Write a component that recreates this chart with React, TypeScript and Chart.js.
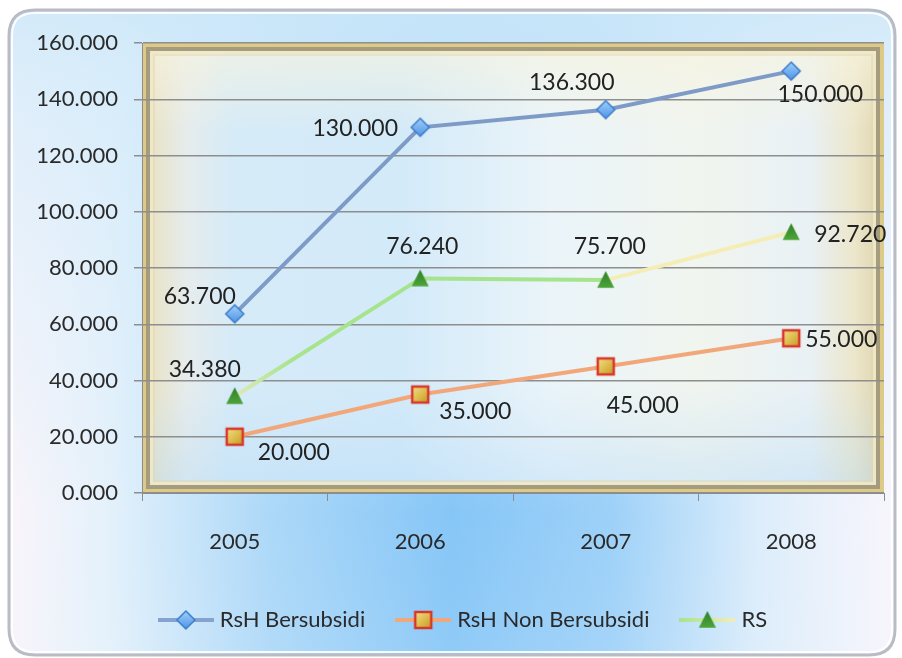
import React, { useEffect, useRef } from "react";
import { Chart, registerables } from "chart.js";
Chart.register(...registerables);

const years = ["2005", "2006", "2007", "2008"];
const rshBersubsidi = [63.7, 130, 136.3, 150];
const rshNonBersubsidi = [20, 35, 45, 55];
const rsValues = [34.38, 76.24, 75.7, 92.72];
const seriesNames = ["RsH Bersubsidi", "RsH Non Bersubsidi", "RS"];
const yMin = 0;
const yMax = 160;
const yStep = 20;

// label offsets (style) relative to each point: [dx, dy]
const labelOffsets = [
  [[-35, -17], [-65, 1], [-34, -27], [29, 23]],
  [[59, 16], [55, 17], [37, 39], [50, 1]],
  [[-30, -27], [2, -32], [4, -34], [59, 2]],
];

const FONT = "Lato, 'Open Sans', sans-serif";

function makeCanvas(w: number, h: number) {
  const c = document.createElement("canvas");
  c.width = w;
  c.height = h;
  return c;
}

function drawDiamond(ctx: CanvasRenderingContext2D, cx: number, cy: number, r: number) {
  const g = ctx.createLinearGradient(cx, cy - r, cx, cy + r);
  g.addColorStop(0, "#9fd0fb");
  g.addColorStop(1, "#4d94e6");
  ctx.beginPath();
  ctx.moveTo(cx, cy - r);
  ctx.lineTo(cx + r, cy);
  ctx.lineTo(cx, cy + r);
  ctx.lineTo(cx - r, cy);
  ctx.closePath();
  ctx.fillStyle = g;
  ctx.fill();
  ctx.lineWidth = 1.5;
  ctx.strokeStyle = "#3f7cc8";
  ctx.stroke();
}

function drawSquare(ctx: CanvasRenderingContext2D, cx: number, cy: number, r: number) {
  const g = ctx.createLinearGradient(cx - r, cy - r, cx + r, cy + r);
  g.addColorStop(0, "#f3df86");
  g.addColorStop(0.6, "#d9b847");
  g.addColorStop(1, "#c39a2c");
  ctx.fillStyle = g;
  ctx.fillRect(cx - r, cy - r, 2 * r, 2 * r);
  ctx.lineWidth = 2.5;
  ctx.strokeStyle = "#d8382c";
  ctx.strokeRect(cx - r, cy - r, 2 * r, 2 * r);
}

function drawTriangle(ctx: CanvasRenderingContext2D, cx: number, cy: number, r: number) {
  const g = ctx.createLinearGradient(cx, cy - r, cx, cy + r);
  g.addColorStop(0, "#2f7f26");
  g.addColorStop(1, "#4fa83c");
  ctx.beginPath();
  ctx.moveTo(cx, cy - r);
  ctx.lineTo(cx + r * 0.95, cy + r * 0.85);
  ctx.lineTo(cx - r * 0.95, cy + r * 0.85);
  ctx.closePath();
  ctx.fillStyle = g;
  ctx.fill();
}

function markerImage(kind: number) {
  const c = makeCanvas(22, 22);
  const ctx = c.getContext("2d")!;
  if (kind === 0) drawDiamond(ctx, 11, 11, 9);
  else if (kind === 1) drawSquare(ctx, 11, 11, 8);
  else drawTriangle(ctx, 11, 11, 9);
  return c;
}

function legendImage(kind: number) {
  const c = makeCanvas(56, 24);
  const ctx = c.getContext("2d")!;
  ctx.lineWidth = 4;
  if (kind === 0) {
    ctx.strokeStyle = "#86a3cf";
  } else if (kind === 1) {
    ctx.strokeStyle = "#f0a77a";
  } else {
    const g = ctx.createLinearGradient(0, 0, 56, 0);
    g.addColorStop(0, "#a6e48d");
    g.addColorStop(1, "#f4eeb7");
    ctx.strokeStyle = g;
  }
  ctx.beginPath();
  ctx.moveTo(0, 12);
  ctx.lineTo(56, 12);
  ctx.stroke();
  if (kind === 0) drawDiamond(ctx, 28, 12, 9);
  else if (kind === 1) drawSquare(ctx, 28, 12, 8);
  else drawTriangle(ctx, 28, 12, 9);
  return c;
}

function roundRectPath(ctx: CanvasRenderingContext2D, x: number, y: number, w: number, h: number, r: number) {
  ctx.beginPath();
  ctx.moveTo(x + r, y);
  ctx.lineTo(x + w - r, y);
  ctx.quadraticCurveTo(x + w, y, x + w, y + r);
  ctx.lineTo(x + w, y + h - r);
  ctx.quadraticCurveTo(x + w, y + h, x + w - r, y + h);
  ctx.lineTo(x + r, y + h);
  ctx.quadraticCurveTo(x, y + h, x, y + h - r);
  ctx.lineTo(x, y + r);
  ctx.quadraticCurveTo(x, y, x + r, y);
  ctx.closePath();
}

const backgroundPlugin = {
  id: "bgFrame",
  afterLayout(chart: any) {
    const lg = chart.legend;
    if (lg) {
      lg.left += 46;
    }
  },
  beforeDraw(chart: any) {
    const ctx: CanvasRenderingContext2D = chart.ctx;
    const W = chart.width;
    const H = chart.height;
    ctx.save();
    ctx.fillStyle = "#ffffff";
    ctx.fillRect(0, 0, W, H);

    // outer rounded panel
    const ox = 9, oy = 10, ow = W - 16, oh = H - 13, orr = 26;
    roundRectPath(ctx, ox, oy, ow, oh, orr);
    ctx.save();
    ctx.clip();
    let g: CanvasGradient = ctx.createLinearGradient(0, 0, W, 0);
    g.addColorStop(0, "#fbf5fa");
    g.addColorStop(0.12, "#e4f1fb");
    g.addColorStop(0.3, "#acd8f8");
    g.addColorStop(0.5, "#86c6f7");
    g.addColorStop(0.68, "#9ed1f8");
    g.addColorStop(0.84, "#dcedfb");
    g.addColorStop(1, "#faf6fc");
    ctx.fillStyle = g;
    ctx.fillRect(0, 0, W, H);
    g = ctx.createLinearGradient(0, 0, 0, H);
    g.addColorStop(0, "rgba(205,232,249,0.9)");
    g.addColorStop(0.12, "rgba(212,235,250,0.75)");
    g.addColorStop(0.55, "rgba(220,238,250,0.3)");
    g.addColorStop(0.78, "rgba(220,238,250,0)");
    g.addColorStop(1, "rgba(235,245,252,0.1)");
    ctx.fillStyle = g;
    ctx.fillRect(0, 0, W, H);
    ctx.restore();
    roundRectPath(ctx, ox, oy, ow, oh, orr);
    ctx.lineWidth = 3;
    ctx.strokeStyle = "#b9bcc4";
    ctx.stroke();
    roundRectPath(ctx, ox + 3, oy + 3, ow - 6, oh - 6, orr - 3);
    ctx.lineWidth = 2;
    ctx.strokeStyle = "rgba(255,255,255,0.9)";
    ctx.stroke();

    // plot area
    const a = chart.chartArea;
    const pw = a.right - a.left;
    const ph = a.bottom - a.top;
    g = ctx.createLinearGradient(a.left, 0, a.right, 0);
    g.addColorStop(0, "#e9e0bd");
    g.addColorStop(0.06, "#e6ecec");
    g.addColorStop(0.12, "#d6ebf8");
    g.addColorStop(0.35, "#d3eaf9");
    g.addColorStop(0.55, "#eaf4f9");
    g.addColorStop(0.75, "#f1f5ef");
    g.addColorStop(0.9, "#e9f1f5");
    g.addColorStop(0.96, "#ece6cb");
    g.addColorStop(1, "#dcd2aa");
    ctx.fillStyle = g;
    ctx.fillRect(a.left, a.top, pw, ph);
    g = ctx.createLinearGradient(0, a.top, 0, a.bottom);
    g.addColorStop(0, "rgba(248,244,222,0.7)");
    g.addColorStop(0.2, "rgba(248,244,222,0)");
    g.addColorStop(0.75, "rgba(190,222,248,0)");
    g.addColorStop(1, "rgba(180,218,248,0.45)");
    ctx.fillStyle = g;
    ctx.fillRect(a.left, a.top, pw, ph);

    // frame bevel
    ctx.lineWidth = 4;
    ctx.strokeStyle = "#ddca88";
    ctx.strokeRect(a.left + 2, a.top + 2, pw - 4, ph - 4);
    ctx.lineWidth = 4;
    ctx.strokeStyle = "#a59c7e";
    ctx.strokeRect(a.left + 6, a.top + 6, pw - 12, ph - 12);
    ctx.lineWidth = 3;
    ctx.strokeStyle = "rgba(240,232,200,0.9)";
    ctx.strokeRect(a.left + 9.5, a.top + 9.5, pw - 19, ph - 19);
    ctx.lineWidth = 2;
    ctx.strokeStyle = "rgba(225,215,175,0.5)";
    ctx.strokeRect(a.left + 12, a.top + 12, pw - 24, ph - 24);
    ctx.restore();
  },
};

const labelPlugin = {
  id: "valueLabels",
  afterDatasetsDraw(chart: any) {
    const ctx: CanvasRenderingContext2D = chart.ctx;
    ctx.save();
    ctx.font = `23px ${FONT}`;
    ctx.fillStyle = "#222222";
    ctx.textAlign = "center";
    ctx.textBaseline = "middle";
    chart.data.datasets.forEach((ds: any, di: number) => {
      const meta = chart.getDatasetMeta(di);
      meta.data.forEach((pt: any, i: number) => {
        const v = ds.data[i] as number;
        const off = labelOffsets[di][i];
        ctx.fillText(v.toFixed(3), pt.x + off[0], pt.y + off[1]);
      });
    });
    ctx.restore();
  },
};

export default function App() {
  const ref = useRef<HTMLCanvasElement | null>(null);

  useEffect(() => {
    if (!ref.current) return;
    const markers = [0, 1, 2].map(markerImage);
    const legends = [0, 1, 2].map(legendImage);

    const chart = new Chart(ref.current, {
      type: "line",
      data: {
        labels: years,
        datasets: [
          {
            label: seriesNames[0],
            data: rshBersubsidi,
            borderColor: "#7e9bc8",
            borderWidth: 4,
            pointStyle: markers[0] as any,
            pointRadius: 9,
            tension: 0,
          },
          {
            label: seriesNames[1],
            data: rshNonBersubsidi,
            borderColor: "#f2a77a",
            borderWidth: 4,
            pointStyle: markers[1] as any,
            pointRadius: 9,
            tension: 0,
          },
          {
            label: seriesNames[2],
            data: rsValues,
            borderColor: "#a5e38c",
            borderWidth: 4,
            pointStyle: markers[2] as any,
            pointRadius: 9,
            tension: 0,
            segment: {
              borderColor: (c: any) => {
                const i = c.p0DataIndex;
                if (i === 2) return "#f4eeb6";
                if (i === 0) {
                  const gctx = c.chart.ctx as CanvasRenderingContext2D;
                  const gr = gctx.createLinearGradient(c.p0.x, c.p0.y, c.p1.x, c.p1.y);
                  gr.addColorStop(0, "#dfe9b6");
                  gr.addColorStop(0.3, "#a8e48e");
                  gr.addColorStop(1, "#a5e38c");
                  return gr;
                }
                return "#a5e38c";
              },
            },
          },
        ],
      },
      options: {
        animation: false,
        responsive: true,
        maintainAspectRatio: false,
        layout: { padding: { top: 43, right: 18, bottom: 17, left: 0 } },
        plugins: {
          tooltip: { enabled: false },
          legend: {
            position: "bottom",
            labels: {
              usePointStyle: true,
              pointStyleWidth: 46,
              padding: 35,
              color: "#2a2a2a",
              font: { family: FONT, size: 22 },
              generateLabels: (ch: any) => {
                const items = Chart.defaults.plugins.legend.labels.generateLabels(ch);
                items.forEach((it: any, i: number) => {
                  it.pointStyle = legends[i];
                });
                return items;
              },
            },
          },
        },
        scales: {
          x: {
            offset: true,
            grid: {
              drawOnChartArea: false,
              drawTicks: true,
              tickLength: 8,
              color: "#8c8c8c",
              offset: true,
            },
            border: { color: "#8c8c8c", width: 1 },
            ticks: {
              color: "#2a2a2a",
              padding: 28,
              font: { family: FONT, size: 22 },
            },
            afterFit: (s: any) => {
              s.height = 81;
            },
          },
          y: {
            min: yMin,
            max: yMax,
            grid: {
              color: "#8e8e8e",
              lineWidth: 1.5,
              tickLength: 8,
            },
            border: { color: "#8c8c8c", width: 1 },
            ticks: {
              stepSize: yStep,
              color: "#2a2a2a",
              padding: 16,
              font: { family: FONT, size: 22 },
              callback: (v: any) => Number(v).toFixed(3),
            },
            afterFit: (s: any) => {
              s.width = 142;
            },
          },
        },
      },
      plugins: [backgroundPlugin, labelPlugin],
    });
    return () => chart.destroy();
  }, []);

  return (
    <div style={{ position: "fixed", left: 0, top: 0, width: 902, height: 658 }}>
      <canvas ref={ref} />
    </div>
  );
}
